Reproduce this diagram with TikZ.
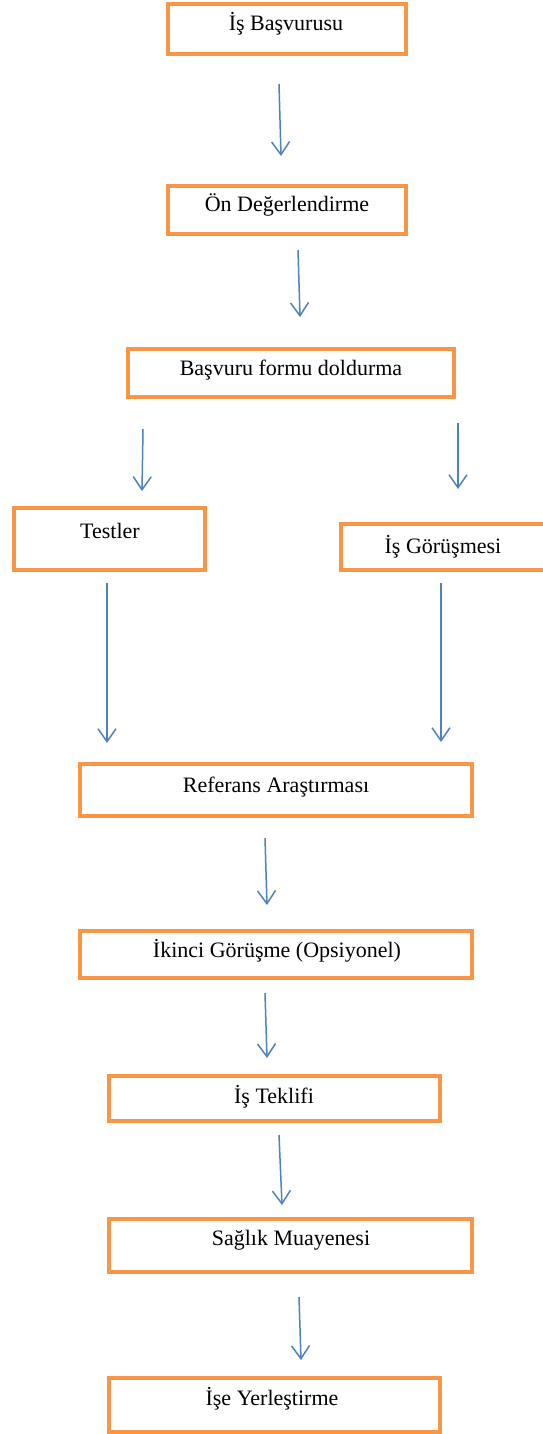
\documentclass[tikz,border=0pt]{standalone}
\usepackage{fontspec}
\setmainfont{Liberation Serif}
\usepackage{xcolor}
\usetikzlibrary{arrows.meta}

\definecolor{kututuruncu}{RGB}{247,150,70}
\definecolor{okmavi}{RGB}{79,129,189}

\begin{document}
\begin{tikzpicture}[x=0.5pt, y=-0.5pt]
			\tikzstyle{kutu}=[draw=kututuruncu, line width=2pt, fill=white, rectangle, inner sep=0pt]
			\tikzstyle{metin}=[anchor=base, inner sep=0pt, font=\fontsize{11}{13}\selectfont]
			\tikzstyle{ok}=[draw=okmavi, line width=0.75pt, -{Straight Barb[length=6.5pt,width=9pt]}]
			\useasboundingbox (0,0) rectangle (542,1434);
			
			\node[kutu, minimum width=119pt, minimum height=25pt] (basvuru) at (287,29) {};
			\node[kutu, minimum width=119pt, minimum height=24pt] (on) at (287,210) {};
			\node[kutu, minimum width=163pt, minimum height=24pt] (form) at (291,373) {};
			\node[kutu, minimum width=95.5pt, minimum height=31pt] (test) at (109.5,539) {};
			\node[kutu, minimum width=106pt, minimum height=23pt] (gorusme) at (447,547) {};
			\node[kutu, minimum width=196pt, minimum height=26pt] (referans) at (276,790) {};
			\node[kutu, minimum width=196pt, minimum height=23.5pt] (ikinci) at (276,954.5) {};
			\node[kutu, minimum width=165.5pt, minimum height=22.5pt] (teklif) at (274.5,1098.5) {};
			\node[kutu, minimum width=181.5pt, minimum height=26.5pt] (saglik) at (290.5,1245.5) {};
			\node[kutu, minimum width=165.5pt, minimum height=27pt] (yerlestirme) at (274.5,1405) {};
			
			\node[metin] at (286,31) {İş Başvurusu};
			\node[metin] at (287,211) {Ön Değerlendirme};
			\node[metin] at (291,375) {Başvuru formu doldurma};
			\node[metin] at (110,538) {Testler};
			\node[metin] at (443,553) {İş Görüşmesi};
			\node[metin] at (276,792) {Referans Araştırması};
			\node[metin] at (277,957) {İkinci Görüşme (Opsiyonel)};
			\node[metin] at (274,1103) {İş Teklifi};
			\node[metin] at (291,1245) {Sağlık Muayenesi};
			\node[metin] at (272,1405) {İşe Yerleştirme};
			
			% ok uclari
			\coordinate (o1a) at (279,84);   \coordinate (o1b) at (281,156);
			\coordinate (o2a) at (298,250);  \coordinate (o2b) at (300,317);
			\coordinate (o3a) at (143,429);  \coordinate (o3b) at (142,491);
			\coordinate (o4a) at (458,423);  \coordinate (o4b) at (458,489);
			\coordinate (o5a) at (107,583);  \coordinate (o5b) at (107,743);
			\coordinate (o6a) at (441,583);  \coordinate (o6b) at (441,742);
			\coordinate (o7a) at (265,838);  \coordinate (o7b) at (267,905);
			\coordinate (o8a) at (265,993);  \coordinate (o8b) at (267,1058);
			\coordinate (o9a) at (279,1135); \coordinate (o9b) at (282,1205);
			\coordinate (o10a) at (299,1297); \coordinate (o10b) at (301,1360);
			
			\draw[ok] (o1a) to (o1b);
			\draw[ok] (o2a) to (o2b);
			\draw[ok] (o3a) to (o3b);
			\draw[ok] (o4a) to (o4b);
			\draw[ok] (o5a) to (o5b);
			\draw[ok] (o6a) to (o6b);
			\draw[ok] (o7a) to (o7b);
			\draw[ok] (o8a) to (o8b);
			\draw[ok] (o9a) to (o9b);
			\draw[ok] (o10a) to (o10b);
		\end{tikzpicture}
\end{document}
